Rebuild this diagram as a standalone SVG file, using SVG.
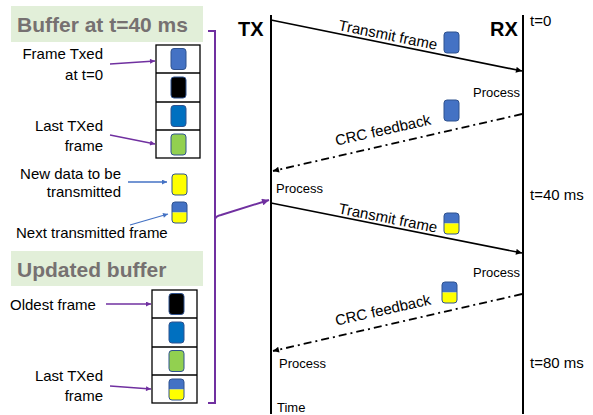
<svg xmlns="http://www.w3.org/2000/svg" width="593" height="415" viewBox="0 0 593 415">
  <style>
    text { font-family: "Liberation Sans", Arial, sans-serif; fill: #000; }
    .hdr-bg { fill: #e2efd9; }
    .hdr { font-size: 21px; font-weight: bold; fill: #767171; }
    .lbl { font-size: 15px; }
    .small { font-size: 13px; }
    .big { font-size: 20px; font-weight: bold; }
    .stack { fill: #fff; stroke: #000; stroke-width: 1.3; }
    .cell { stroke: #000; stroke-width: 1.3; }
    .frame { stroke: #2f528f; stroke-width: 1; }
    .life { stroke: #000; stroke-width: 2; }
    .msg { stroke: #000; stroke-width: 1.6; fill: none; }
    .fb { stroke: #000; stroke-width: 1.8; fill: none; stroke-dasharray: 8 4 2 4; }
    .ptr { stroke: #7030a0; stroke-width: 1.3; fill: none; }
    .ptr-b { stroke: #4472c4; stroke-width: 1.3; fill: none; }
    .brace { stroke: #7030a0; stroke-width: 2; fill: none; }
  </style>
  <defs>
    <marker id="ah" viewBox="0 0 10 10" refX="10" refY="5" markerWidth="7" markerHeight="6" markerUnits="userSpaceOnUse" orient="auto">
      <path d="M0,0 L10,5 L0,10 z" fill="#000"/>
    </marker>
    <marker id="ah-p" viewBox="0 0 10 10" refX="10" refY="5" markerWidth="6" markerHeight="5" markerUnits="userSpaceOnUse" orient="auto">
      <path d="M0,0 L10,5 L0,10 z" fill="#7030a0"/>
    </marker>
    <marker id="ah-pb" viewBox="0 0 10 10" refX="10" refY="5" markerWidth="8" markerHeight="7" markerUnits="userSpaceOnUse" orient="auto">
      <path d="M0,0 L10,5 L0,10 z" fill="#7030a0"/>
    </marker>
    <marker id="ah-b" viewBox="0 0 10 10" refX="10" refY="5" markerWidth="6" markerHeight="5" markerUnits="userSpaceOnUse" orient="auto">
      <path d="M0,0 L10,5 L0,10 z" fill="#4472c4"/>
    </marker>
    <!-- frame tokens, 15x21, origin at top-left -->
    <rect id="f-blue" width="15" height="21" rx="3" fill="#4472c4" class="frame"/>
    <rect id="f-black" width="15" height="21" rx="3" fill="#000" class="frame"/>
    <rect id="f-mid" width="15" height="21" rx="3" fill="#0070c0" class="frame"/>
    <rect id="f-green" width="15" height="21" rx="3" fill="#92d050" class="frame"/>
    <rect id="f-yellow" width="15" height="21" rx="3" fill="#ffff00" class="frame"/>
    <g id="f-split">
      <path d="M0,10.5 V3 Q0,0 3,0 H12 Q15,0 15,3 V10.5 z" fill="#4472c4"/>
      <path d="M0,10.5 V18 Q0,21 3,21 H12 Q15,21 15,18 V10.5 z" fill="#ffff00"/>
      <rect width="15" height="21" rx="3" fill="none" class="frame"/>
    </g>
  </defs>

  <!-- buffer state at t=40 ms -->
  <g id="buffer-40">
    <rect class="hdr-bg" x="11" y="6" width="192" height="36"/>
    <text class="hdr" x="17" y="32">Buffer at t=40 ms</text>
    <rect class="stack" x="156" y="45" width="44" height="113"/>
    <line class="cell" x1="156" y1="73" x2="200" y2="73"/>
    <line class="cell" x1="156" y1="102" x2="200" y2="102"/>
    <line class="cell" x1="156" y1="130" x2="200" y2="130"/>
    <use href="#f-blue" x="171" y="48.5"/>
    <use href="#f-black" x="171" y="77"/>
    <use href="#f-mid" x="171" y="105.5"/>
    <use href="#f-green" x="171" y="134"/>
    <text class="lbl" x="103" y="59" text-anchor="end">Frame Txed</text>
    <text class="lbl" x="103" y="80" text-anchor="end">at t=0</text>
    <text class="lbl" x="103" y="131" text-anchor="end">Last TXed</text>
    <text class="lbl" x="103" y="151" text-anchor="end">frame</text>
  </g>

  <!-- frames waiting for transmission -->
  <g id="pending">
    <use href="#f-yellow" x="172" y="174"/>
    <use href="#f-split" x="172" y="202"/>
    <text class="lbl" x="121" y="179" text-anchor="end">New data to be</text>
    <text class="lbl" x="121" y="197" text-anchor="end">transmitted</text>
    <text class="lbl" x="16" y="238">Next transmitted frame</text>
  </g>

  <!-- buffer after the update -->
  <g id="buffer-updated">
    <rect class="hdr-bg" x="11" y="251" width="192" height="35"/>
    <text class="hdr" x="17" y="277">Updated buffer</text>
    <rect class="stack" x="152" y="290" width="45" height="113"/>
    <line class="cell" x1="152" y1="318" x2="197" y2="318"/>
    <line class="cell" x1="152" y1="347" x2="197" y2="347"/>
    <line class="cell" x1="152" y1="375" x2="197" y2="375"/>
    <use href="#f-black" x="169" y="293.5"/>
    <use href="#f-mid" x="169" y="322"/>
    <use href="#f-green" x="169" y="350.5"/>
    <use href="#f-split" x="169" y="379"/>
    <text class="lbl" x="10" y="310">Oldest frame</text>
    <text class="lbl" x="103" y="381" text-anchor="end">Last TXed</text>
    <text class="lbl" x="103" y="401" text-anchor="end">frame</text>
  </g>

  <!-- lifelines -->
  <g id="tx">
    <line class="life" x1="271" y1="15" x2="271" y2="414"/>
    <text class="big" x="238" y="36">TX</text>
    <text class="small" x="276" y="193">Process</text>
    <text class="small" x="279" y="368">Process</text>
    <text class="small" x="277" y="412">Time</text>
  </g>
  <g id="rx">
    <line class="life" x1="523" y1="15" x2="523" y2="414"/>
    <text class="big" x="490" y="36">RX</text>
    <text class="small" x="520" y="97" text-anchor="end">Process</text>
    <text class="small" x="520" y="277" text-anchor="end">Process</text>
    <text class="lbl" x="530" y="26">t=0</text>
    <text class="lbl" x="530" y="200">t=40 ms</text>
    <text class="lbl" x="530" y="368">t=80 ms</text>
  </g>

  <!-- frames in flight -->
  <g id="in-flight">
    <use href="#f-blue" x="444" y="32"/>
    <use href="#f-blue" x="444" y="100"/>
    <use href="#f-split" x="444" y="213"/>
    <use href="#f-split" x="442" y="282"/>
  </g>

  <g id="connectors">
    <line class="msg" x1="271" y1="20" x2="522" y2="71" marker-end="url(#ah)"/>
    <line class="fb" x1="522" y1="114" x2="273" y2="171" marker-end="url(#ah)"/>
    <line class="msg" x1="271" y1="203" x2="522" y2="253" marker-end="url(#ah)"/>
    <line class="fb" x1="522" y1="294" x2="273" y2="351" marker-end="url(#ah)"/>
    <text class="lbl" transform="translate(387,40) rotate(11.4)" text-anchor="middle">Transmit frame</text>
    <text class="lbl" transform="translate(384,135) rotate(-12.7)" text-anchor="middle">CRC feedback</text>
    <text class="lbl" transform="translate(387,223) rotate(11.2)" text-anchor="middle">Transmit frame</text>
    <text class="lbl" transform="translate(384,315) rotate(-12.7)" text-anchor="middle">CRC feedback</text>

    <line class="ptr" x1="110" y1="64" x2="155" y2="61" marker-end="url(#ah-p)"/>
    <line class="ptr" x1="110" y1="135" x2="155" y2="144" marker-end="url(#ah-p)"/>
    <line class="ptr-b" x1="128" y1="182" x2="167" y2="182" marker-end="url(#ah-b)"/>
    <line class="ptr-b" x1="130" y1="225" x2="168" y2="214" marker-end="url(#ah-b)"/>
    <line class="ptr" x1="106" y1="304" x2="151" y2="304" marker-end="url(#ah-p)"/>
    <line class="ptr" x1="110" y1="386" x2="151" y2="389" marker-end="url(#ah-p)"/>

    <path class="brace" d="M208,31 H215 V403 H208"/>
    <path class="brace" d="M215,219 Q216,216 221,215 L269,200" marker-end="url(#ah-pb)"/>
  </g>
</svg>
